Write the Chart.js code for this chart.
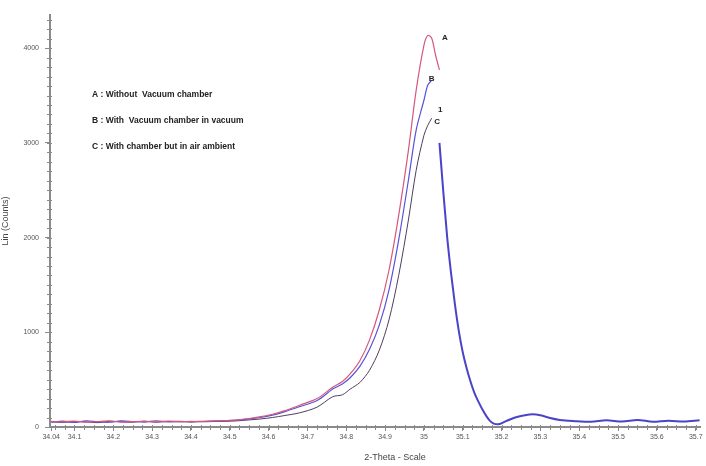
<!DOCTYPE html>
<html>
<head>
<meta charset="utf-8">
<script src="https://cdn.jsdelivr.net/npm/chart.js@4.4.1/dist/chart.umd.min.js"></script>
<style>
  html, body { margin: 0; padding: 0; background: #fff; }
  #wrap { width: 706px; height: 466px; }
</style>
</head>
<body>
<div id="wrap"><canvas id="xrd" width="706" height="466"></canvas></div>
<script>
/* ===== Data (2-Theta vs Lin counts) ===== */
var riseTheta = [34.04, 34.07, 34.10, 34.13, 34.16, 34.19, 34.22, 34.25, 34.28, 34.31, 34.34, 34.37, 34.40,
                 34.43, 34.46, 34.49, 34.52, 34.55, 34.58, 34.61, 34.64, 34.68, 34.725, 34.765, 34.79, 34.81,
                 34.835, 34.86, 34.885, 34.91, 34.935, 34.96, 34.98, 35.00, 35.01, 35.02, 35.03, 35.04];
var countsA   = [60, 55, 62, 50, 58, 64, 52, 57, 60, 54, 62, 58, 56,
                 60, 64, 68, 75, 90, 110, 135, 170, 230, 300, 420, 480, 560,
                 700, 920, 1235, 1655, 2235, 2920, 3555, 4030, 4135, 4105, 3925, 3770];
var countsB   = [50, 62, 48, 66, 55, 50, 64, 58, 52, 66, 55, 60, 52,
                 58, 62, 66, 72, 85, 100, 125, 160, 215, 280, 400, 455, 520,
                 640, 820, 1075, 1445, 1975, 2605, 3135, 3450, 3610, 3660, null, null];
var countsC   = [56, 48, 58, 54, 46, 60, 55, 50, 62, 50, 58, 54, 60,
                 55, 58, 60, 65, 75, 85, 100, 120, 150, 210, 320, 340, 400,
                 470, 600, 810, 1130, 1600, 2185, 2710, 3080, 3185, 3260, null, null];
var tailTheta = [35.04, 35.05, 35.06, 35.07, 35.08, 35.09, 35.10, 35.11, 35.12, 35.13, 35.14, 35.15,
                 35.16, 35.17, 35.18, 35.19, 35.21, 35.235, 35.26, 35.28, 35.30, 35.325, 35.35, 35.39,
                 35.43, 35.47, 35.51, 35.55, 35.59, 35.63, 35.67, 35.71];
var tailCounts = [3000, 2480, 2000, 1620, 1290, 1010, 790, 620, 480, 360, 270, 190,
                  120, 65, 35, 28, 60, 100, 125, 135, 125, 95, 75, 62,
                  55, 70, 58, 75, 55, 66, 58, 70];

var xTicks = [34.04, 34.1, 34.2, 34.3, 34.4, 34.5, 34.6, 34.7, 34.8, 34.9, 35, 35.1, 35.2, 35.3, 35.4, 35.5, 35.6, 35.7];
var yTicks = [0, 1000, 2000, 3000, 4000];

var legendLines = ['A : Without  Vacuum chamber', 'B : With  Vacuum chamber in vacuum', 'C : With chamber but in air ambient'];
var markNames  = ['A', 'B', '1', 'C'];
var markTheta  = [35.054, 35.02, 35.042, 35.034];
var markCounts = [4105, 3680, 3350, 3220];

/* ===== Style ===== */
var COLORS = {
    a: '#d4587c',
    b: '#5a52d6',
    c: '#4f3d5c',
    tail: '#4a44c8',
    axis: '#8a8a8a',
    text: '#444'
};
var FONT = "'Liberation Sans', Arial, sans-serif";

function pts(xs, ys) {
    var out = [];
    for (var i = 0; i < xs.length; i++) out.push({ x: xs[i], y: ys[i] });
    return out;
}

/* minor ticks, axis title, legend notes, curve letters */
var decor = {
    id: 'decor',
    afterDraw: function (chart) {
        var ctx = chart.ctx, xs = chart.scales.x, ys = chart.scales.y;
        var area = chart.chartArea;
        ctx.save();
        ctx.strokeStyle = COLORS.axis;
        ctx.lineWidth = 1;
        ctx.beginPath();
        for (var v = 0; v <= 4300; v += 100) {
            var py = Math.round(ys.getPixelForValue(v)) + 0.5;
            ctx.moveTo(area.left - 3, py); ctx.lineTo(area.left + 2, py);
        }
        for (var t = 34.05; t <= 35.71; t += 0.025) {
            var px = Math.round(xs.getPixelForValue(t)) + 0.5;
            ctx.moveTo(px, area.bottom - 2); ctx.lineTo(px, area.bottom + 3);
        }
        ctx.stroke();

        ctx.fillStyle = COLORS.text;
        ctx.font = '9px ' + FONT;
        ctx.textAlign = 'center';
        ctx.textBaseline = 'middle';
        ctx.fillText('2-Theta - Scale', 395, 458);

        ctx.fillStyle = '#222';
        ctx.textAlign = 'left';
        ctx.font = 'bold 8.5px ' + FONT;
        for (var i = 0; i < legendLines.length; i++) {
            ctx.fillText(legendLines[i], 92, 95 + i * 26);
        }

        ctx.font = 'bold 8px ' + FONT;
        ctx.textAlign = 'center';
        for (var j = 0; j < markNames.length; j++) {
            ctx.fillText(markNames[j], xs.getPixelForValue(markTheta[j]), ys.getPixelForValue(markCounts[j]));
        }
        ctx.restore();
    }
};

new Chart(document.getElementById('xrd'), {
    type: 'line',
    data: {
        datasets: [
            { label: 'A', data: pts(riseTheta, countsA), borderColor: COLORS.a, borderWidth: 1.2 },
            { label: 'B', data: pts(riseTheta, countsB), borderColor: COLORS.b, borderWidth: 1.2 },
            { label: 'C', data: pts(riseTheta, countsC), borderColor: COLORS.c, borderWidth: 1 },
            { label: 'B tail', data: pts(tailTheta, tailCounts), borderColor: COLORS.tail, borderWidth: 2,
              cubicInterpolationMode: 'monotone' }
        ]
    },
    options: {
        responsive: false,
        animation: false,
        layout: { padding: { top: 15, right: 6, left: 0, bottom: 0 } },
        elements: { point: { radius: 0 }, line: { tension: 0.3, fill: false } },
        plugins: { legend: { display: false }, tooltip: { enabled: false } },
        scales: {
            x: {
                type: 'linear',
                min: 34.037, max: 35.711,
                afterFit: function (s) { s.height = 39; },
                afterBuildTicks: function (s) { s.ticks = xTicks.map(function (v) { return { value: v }; }); },
                border: { color: COLORS.axis, width: 2 },
                grid: { drawOnChartArea: false, tickLength: 4, color: COLORS.axis },
                ticks: {
                    maxRotation: 0, autoSkip: false, padding: 2,
                    color: '#555', font: { family: FONT, size: 7 },
                    callback: function (v) { return String(+v.toFixed(2)); }
                }
            },
            y: {
                min: 0, max: 4350,
                afterFit: function (s) { s.width = 50; },
                afterBuildTicks: function (s) { s.ticks = yTicks.map(function (v) { return { value: v }; }); },
                border: { color: COLORS.axis, width: 2 },
                grid: { drawOnChartArea: false, tickLength: 5, color: COLORS.axis },
                ticks: { padding: 6, color: '#555', font: { family: FONT, size: 7 },
                         callback: function (v) { return String(v); } },
                title: { display: true, text: 'Lin (Counts)', color: COLORS.text, font: { family: FONT, size: 9 }, padding: 0 }
            }
        }
    },
    plugins: [decor]
});
</script>
</body>
</html>
